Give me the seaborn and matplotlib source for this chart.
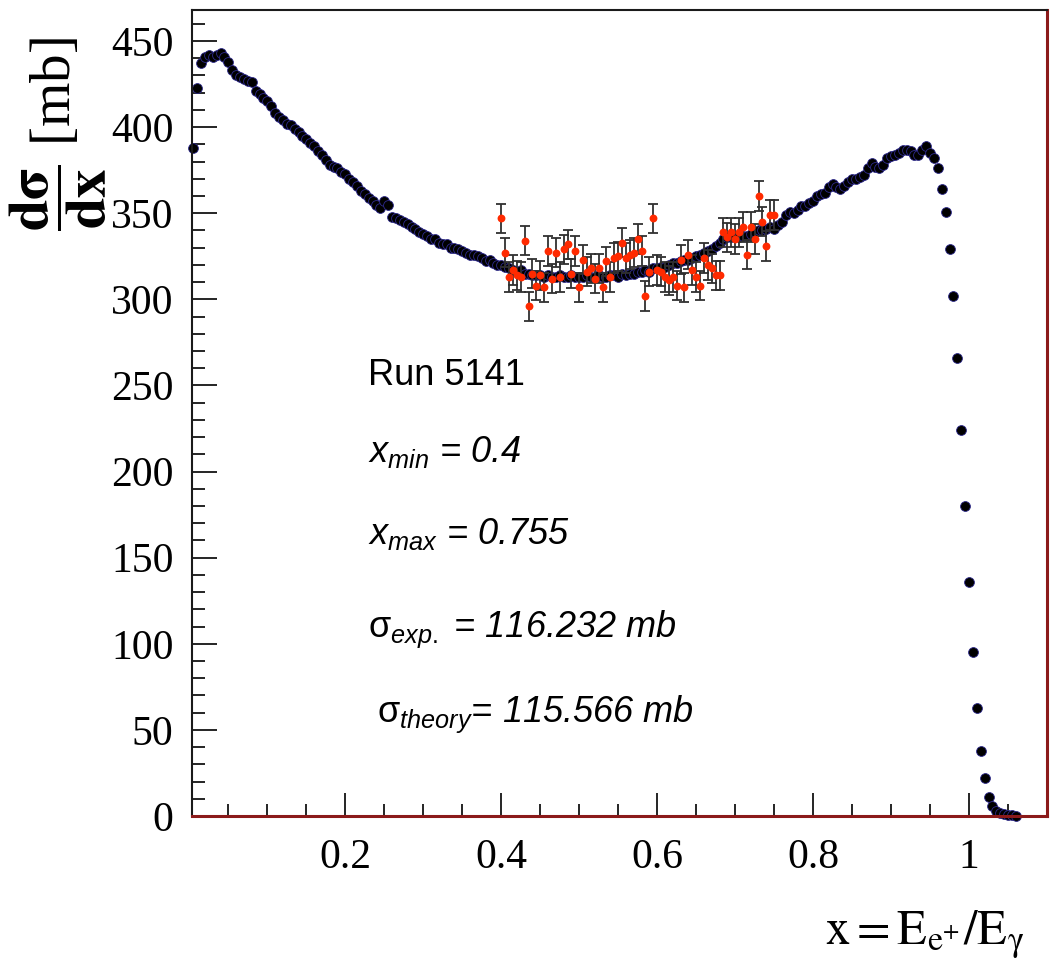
"""Differential pair-production cross section vs x = E_e+/E_gamma (run 5141)."""

import matplotlib

matplotlib.use("Agg")
import matplotlib.pyplot as plt
import seaborn as sns
from matplotlib import font_manager
from matplotlib.ticker import FixedLocator, FixedFormatter, MultipleLocator

# --- data ------------------------------------------------------------------
# black histogram (full spectrum), bin centres in x
BLACK_X = [
    0.005, 0.010, 0.015, 0.020, 0.025, 0.030, 0.035, 0.040, 0.045, 0.050,
    0.055, 0.060, 0.065, 0.070, 0.075, 0.080, 0.085, 0.090, 0.095, 0.100,
    0.105, 0.110, 0.115, 0.120, 0.125, 0.130, 0.135, 0.140, 0.145, 0.150,
    0.155, 0.160, 0.165, 0.170, 0.175, 0.180, 0.185, 0.190, 0.195, 0.200,
    0.205, 0.210, 0.215, 0.220, 0.225, 0.230, 0.235, 0.240, 0.245, 0.250,
    0.255, 0.260, 0.265, 0.270, 0.275, 0.280, 0.285, 0.290, 0.295, 0.300,
    0.305, 0.310, 0.315, 0.320, 0.325, 0.330, 0.335, 0.340, 0.345, 0.350,
    0.355, 0.360, 0.365, 0.370, 0.375, 0.380, 0.385, 0.390, 0.395, 0.400,
    0.405, 0.410, 0.415, 0.420, 0.425, 0.430, 0.435, 0.440, 0.445, 0.450,
    0.455, 0.460, 0.465, 0.470, 0.475, 0.480, 0.485, 0.490, 0.495, 0.500,
    0.505, 0.510, 0.515, 0.520, 0.525, 0.530, 0.535, 0.540, 0.545, 0.550,
    0.555, 0.560, 0.565, 0.570, 0.575, 0.580, 0.585, 0.590, 0.595, 0.600,
    0.605, 0.610, 0.615, 0.620, 0.625, 0.630, 0.635, 0.640, 0.645, 0.650,
    0.655, 0.660, 0.665, 0.670, 0.675, 0.680, 0.685, 0.690, 0.695, 0.700,
    0.705, 0.710, 0.715, 0.720, 0.725, 0.730, 0.735, 0.740, 0.745, 0.750,
    0.755, 0.760, 0.765, 0.770, 0.775, 0.780, 0.785, 0.790, 0.795, 0.800,
    0.805, 0.810, 0.815, 0.820, 0.825, 0.830, 0.835, 0.840, 0.845, 0.850,
    0.855, 0.860, 0.865, 0.870, 0.875, 0.880, 0.885, 0.890, 0.895, 0.900,
    0.905, 0.910, 0.915, 0.920, 0.925, 0.930, 0.935, 0.940, 0.945, 0.950,
    0.955, 0.960, 0.965, 0.970, 0.975, 0.980, 0.985, 0.990, 0.995, 1.000,
    1.005, 1.010, 1.015, 1.020, 1.025, 1.030, 1.035, 1.040, 1.045, 1.050,
    1.055, 1.060,
]
BLACK_Y = [
    388, 423, 437, 441, 442, 441, 442, 443, 441, 438,
    433, 430, 429, 428, 427, 426, 421, 419, 417, 415,
    412, 408, 406, 404, 402, 401, 399, 397, 395, 393,
    391, 389, 386, 384, 381, 378, 377, 376, 374, 373,
    370, 368, 366, 363, 361, 359, 357, 355, 353, 357,
    355, 348, 347, 346, 345, 344, 342, 341, 339, 338,
    337, 335, 335, 333, 332, 332, 330, 330, 329, 328,
    327, 326, 326, 325, 324, 322, 323, 321, 320, 320,
    319, 318, 317, 316, 317, 315, 315, 314, 314, 314,
    313, 314, 313, 313, 314, 313, 313, 314, 313, 313,
    313, 314, 313, 313, 314, 313, 313, 314, 314, 313,
    315, 314, 315, 315, 316, 316, 317, 316, 318, 318,
    319, 319, 320, 321, 321, 322, 323, 323, 324, 325,
    326, 327, 328, 329, 331, 333, 335, 336, 336, 337,
    336, 337, 337, 338, 339, 340, 340, 341, 342, 341,
    343, 345, 349, 351, 350, 352, 354, 354, 356, 357,
    360, 361, 362, 365, 367, 365, 364, 366, 368, 370,
    370, 371, 372, 376, 379, 377, 376, 378, 382, 383,
    384, 385, 387, 387, 386, 384, 384, 387, 389, 385,
    382, 376, 364, 351, 329, 302, 266, 224, 180, 136,
    95, 63, 38, 22, 11, 6, 3, 2, 1, 0.6,
    0.3, 0.2,
]

# red points: measured data in the fit window x_min..x_max
RED_X = [
    0.400, 0.405, 0.410, 0.415, 0.420, 0.425, 0.430, 0.435, 0.440, 0.445,
    0.450, 0.455, 0.460, 0.465, 0.470, 0.475, 0.480, 0.485, 0.490, 0.495,
    0.500, 0.505, 0.510, 0.515, 0.520, 0.525, 0.530, 0.535, 0.540, 0.545,
    0.550, 0.555, 0.560, 0.565, 0.570, 0.575, 0.580, 0.585, 0.590, 0.595,
    0.600, 0.605, 0.610, 0.615, 0.620, 0.625, 0.630, 0.635, 0.640, 0.645,
    0.650, 0.655, 0.660, 0.665, 0.670, 0.675, 0.680, 0.685, 0.690, 0.695,
    0.700, 0.705, 0.710, 0.715, 0.720, 0.725, 0.730, 0.735, 0.740, 0.745,
    0.750,
]
RED_Y = [
    347, 327, 313, 317, 314, 313, 334, 296, 315, 308,
    314, 307, 328, 312, 327, 313, 329, 332, 315, 328,
    307, 323, 316, 318, 312, 318, 307, 322, 313, 324,
    325, 333, 324, 326, 327, 335, 328, 302, 316, 347,
    317, 316, 313, 311, 313, 308, 323, 307, 326, 317,
    313, 308, 324, 320, 318, 314, 314, 339, 336, 339,
    335, 339, 342, 326, 342, 335, 360, 345, 331, 349,
    349,
]
RED_ERR = 8.5

Y_TICKS = [0, 50, 100, 150, 200, 250, 300, 350, 400, 450]
X_TICKS = [0.2, 0.4, 0.6, 0.8, 1.0]
X_TICK_LABELS = ["0.2", "0.4", "0.6", "0.8", "1"]

RUN_LABEL = "Run 5141"
FIT_LABELS = [
    r"$x_{min}$ = 0.4",
    r"$x_{max}$ = 0.755",
    r"$\mathrm{\sigma}_{exp.}$ = 116.232 mb",
    r"$\mathrm{\sigma}_{theory}$= 115.566 mb",
]

# --- layout (pixels of the 1052x969 canvas) --------------------------------
W, H = 1052, 969
TEXT_X = [368, 368, 368, 368, 377]
TEXT_BASE = [385, 462, 544, 637, 722]


def fx(px):
    return px / W


def fy(py):
    return 1 - py / H


def main() -> None:
    sns.set_style("white")
    installed = {f.name for f in font_manager.fontManager.ttflist}
    narrow = "Liberation Sans Narrow" in installed
    sans = "Liberation Sans Narrow" if narrow else "Liberation Sans"
    sans_size = 30 if narrow else 26

    plt.rcParams["font.family"] = ["Liberation Serif", "DejaVu Serif"]
    plt.rcParams["text.color"] = "black"
    plt.rcParams["xtick.color"] = "black"
    plt.rcParams["ytick.color"] = "black"
    plt.rcParams["mathtext.fontset"] = "custom"
    plt.rcParams["mathtext.rm"] = sans
    plt.rcParams["mathtext.it"] = sans + ":italic"
    plt.rcParams["mathtext.bf"] = sans + ":bold"

    fig = plt.figure(figsize=(W / 100, H / 100), dpi=100)
    ax = fig.add_axes([fx(191.7), fy(816), fx(1047) - fx(191.7), fy(10) - fy(816)])

    sns.scatterplot(x=BLACK_X, y=BLACK_Y, ax=ax, color="black", s=50,
                    edgecolor="#2e2a8c", linewidth=0.6, zorder=2, clip_on=False)
    ax.errorbar(RED_X, RED_Y, yerr=RED_ERR, fmt="none", ecolor="#303030",
                elinewidth=1.3, capsize=3.4, capthick=1.3, zorder=3)
    sns.scatterplot(x=RED_X, y=RED_Y, ax=ax, color="#ff2a00", s=32,
                    linewidth=0, zorder=4)

    ax.set_xlim(0.003, 1.1)
    ax.set_ylim(0, 468)

    ax.xaxis.set_major_locator(FixedLocator(X_TICKS))
    ax.xaxis.set_major_formatter(FixedFormatter(X_TICK_LABELS))
    ax.xaxis.set_minor_locator(MultipleLocator(0.05))
    ax.yaxis.set_major_locator(FixedLocator(Y_TICKS))
    ax.yaxis.set_minor_locator(MultipleLocator(10))

    ax.tick_params(axis="y", which="major", direction="in", length=18, width=1.2,
                   left=True, right=False, labelsize=30, pad=13, colors="black")
    ax.tick_params(axis="y", which="minor", direction="in", length=9, width=1.2,
                   left=True, right=False)
    ax.tick_params(axis="x", which="major", direction="in", length=16.5, width=1.2,
                   bottom=True, top=False, labelsize=30, pad=16, colors="black")
    ax.tick_params(axis="x", which="minor", direction="in", length=8.5, width=1.2,
                   bottom=True, top=False)

    for side in ["left", "top"]:
        ax.spines[side].set_color("#1a1a1a")
        ax.spines[side].set_linewidth(1.5)
    for side in ["right", "bottom"]:
        ax.spines[side].set_color("#8b1a1a")
        ax.spines[side].set_linewidth(2.2)

    # axis titles, ROOT style: drawn at the canvas corners
    fig.text(fx(58), fy(134), r"$\dfrac{\mathbf{d\sigma}}{\mathbf{dx}}$ [mb]",
             rotation=90, ha="center", va="center", fontsize=41,
             math_fontfamily="stix", color="black")
    fig.text(fx(1024), fy(945), r"$\mathrm{x = E_{e^{+}}/E_{\gamma}}$",
             ha="right", va="baseline", fontsize=35, math_fontfamily="stix",
             color="black")

    # run / fit summary
    fig.text(fx(TEXT_X[0]), fy(TEXT_BASE[0]), RUN_LABEL, family=sans,
             fontsize=sans_size, va="baseline", color="black")
    for label, px, py in zip(FIT_LABELS, TEXT_X[1:], TEXT_BASE[1:]):
        fig.text(fx(px), fy(py), label, family=sans, style="italic",
                 fontsize=sans_size, va="baseline", color="black")

    fig.savefig("out.png", dpi=100)
    plt.close(fig)


if __name__ == "__main__":
    main()
